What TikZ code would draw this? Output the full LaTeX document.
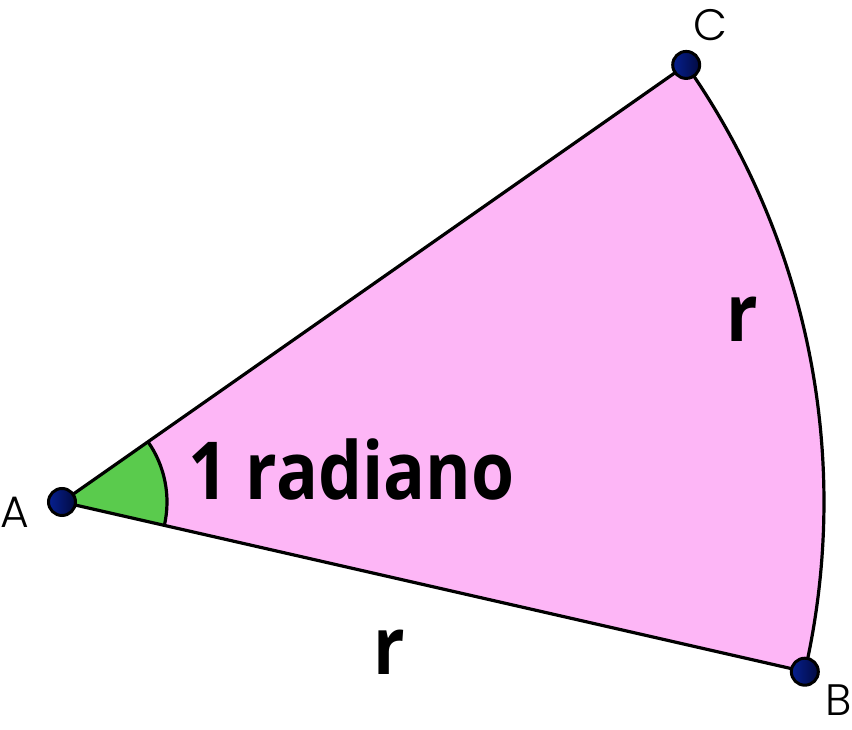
\documentclass[tikz,border=0pt]{standalone}
\usepackage{fontspec}
\setmainfont{Open Sans}
\newfontfamily\bigfont[FakeStretch=0.87]{Open Sans}
\newfontfamily\lblfont{Poppins Light}
\definecolor{sectorpink}{HTML}{FDB6F6}
\definecolor{anglegreen}{HTML}{5ACB4D}
\definecolor{dotblue}{HTML}{062090}
\definecolor{dotdark}{HTML}{020A40}
\begin{document}
\begin{tikzpicture}[x=1pt,y=1pt,
  edge/.style={line width=3.2pt,line join=round},
  dot/.style={circle,draw=black,line width=3pt,minimum size=27pt,inner sep=0pt,left color=dotblue,right color=dotdark},
  vlabel/.style={font=\lblfont\fontsize{44}{50}\selectfont,inner sep=0pt},
  big/.style={font=\bigfont\bfseries\fontsize{80}{96}\selectfont,inner sep=0pt}]
\useasboundingbox (0,0) rectangle (852,730);
\coordinate (A) at (62,228);
\path (A) ++(-12.87:762) coordinate (B);
\path (A) ++(35:762) coordinate (C);
\fill[sectorpink] (A) -- (B) arc[start angle=-12.87,end angle=35,radius=762] -- cycle;
\fill[anglegreen] (A) -- ++(-12.87:105) arc[start angle=-12.87,end angle=35,radius=105] -- cycle;
\draw[edge] (A) ++(-12.87:105) arc[start angle=-12.87,end angle=35,radius=105];
\draw[edge] (C) -- (A) -- (B) arc[start angle=-12.87,end angle=35,radius=762];
\node[dot] (dA) at (A) {};
\node[dot] (dB) at (B) {};
\node[dot] (dC) at (C) {};
\node[vlabel] (lA) at (15,218) {A};
\node[vlabel] (lB) at (839,30) {B};
\node[vlabel] (lC) at (710,705) {C};
\node[big,anchor=base west] (rad) at (188,230) {1 radiano};
\node[big,anchor=base] (r1) at (742,388) {r};
\node[big,anchor=base] (r2) at (389,55) {r};
\end{tikzpicture}
\end{document}
